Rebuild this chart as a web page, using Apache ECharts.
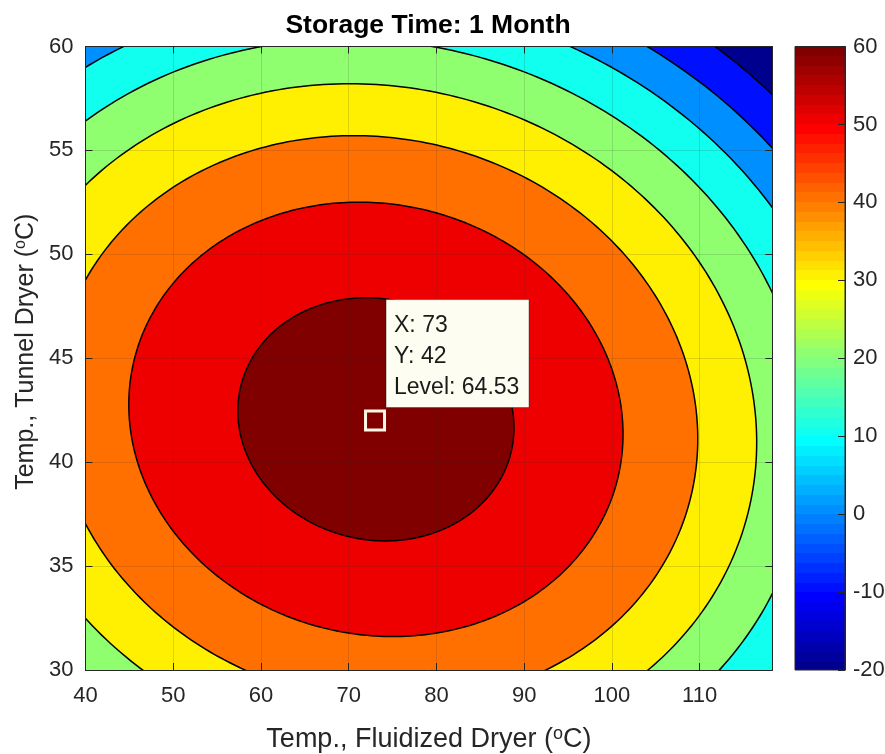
<!DOCTYPE html>
<html>
<head>
<meta charset="utf-8">
<script src="https://cdn.jsdelivr.net/npm/echarts@6/dist/echarts.min.js"></script>
<style>
html,body{margin:0;padding:0;background:#ffffff;}
#chart{width:885px;height:754px;}
</style>
</head>
<body>
<div id="chart"></div>
<script>
// ---------------- data ----------------
const chartTitle = 'Storage Time: 1 Month';
const xTicks = [40, 50, 60, 70, 80, 90, 100, 110];
const xRange = [40, 118.28];
const yTicks = [30, 35, 40, 45, 50, 55, 60];
const colorTicks = [-20, -10, 0, 10, 20, 30, 40, 50, 60];

// contour levels and the shape of each closed contour (elliptical level curves)
const levels     = [-10,  0,    10,   20,   30,    40,    50,    60];
const halfWidth  = [63.5, 59.1, 54.4, 49.1, 43.3,  36.6,  28.1,  15.7];  // x half-chord through the centre row
const halfHeight = [23.9, 22.0, 20.3, 18.3, 16.15, 13.65, 10.45, 5.85];  // y half-extent
const centre = [73.1, 42.06];   // optimum location
const slant = -0.184;           // x shift of chord midpoints per unit of y

// data tip
const tipPoint = [73, 42, 64.53];

// ---------------- styling helpers ----------------
const FONT = '"Liberation Sans", Arial, Helvetica, sans-serif';
const AX = '#262626';
const cMin = colorTicks[0], cMax = colorTicks[colorTicks.length - 1];

function jet(m) {
  const n = Math.ceil(m / 4);
  const u = [];
  for (let i = 1; i <= n; i++) u.push(i / n);
  for (let i = 0; i < n - 1; i++) u.push(1);
  for (let i = n; i >= 1; i--) u.push(i / n);
  const g0 = Math.ceil(n / 2) - (m % 4 === 1 ? 1 : 0);
  const map = Array.from({length: m}, () => [0, 0, 0]);
  for (let j = 0; j < u.length; j++) {
    const g = g0 + j + 1, r = g + n, b = g - n;
    if (r >= 1 && r <= m) map[r - 1][0] = u[j];
    if (g >= 1 && g <= m) map[g - 1][1] = u[j];
    if (b >= 1 && b <= m) map[b - 1][2] = u[j];
  }
  return map.map(c => 'rgb(' + c.map(v => Math.round(v * 255)).join(',') + ')');
}
const JET = jet(64);
function colorOf(v) {
  let i = Math.floor((v - cMin) / (cMax - cMin) * 64);
  return JET[Math.max(0, Math.min(63, i))];
}
const gradStops = [];
for (let i = 0; i < 64; i++) {
  gradStops.push({offset: i / 64, color: JET[i]});
  gradStops.push({offset: (i + 1) / 64, color: JET[i]});
}

const contourData = levels.map((L, i) => [centre[0], centre[1], L, halfWidth[i], halfHeight[i]]);

const chart = echarts.init(document.getElementById('chart'), null, {renderer: 'canvas'});

function nameRich(size) {
  return {sup: {fontSize: Math.round(size * 0.65), fontFamily: FONT, color: AX, verticalAlign: 'bottom',
    padding: [0, 0, Math.round(size * 0.42), 0]}};
}

const option = {
  backgroundColor: '#ffffff',
  animation: false,
  title: {
    text: chartTitle,
    left: 423, top: 7,
    textAlign: 'center', textVerticalAlign: 'top',
    textStyle: {fontFamily: FONT, fontSize: 26.5, fontWeight: 'bold', color: '#000000'}
  },
  grid: [
    {left: 85.5, top: 46.5, width: 686.8, height: 623.5, containLabel: false, outerBoundsMode: 'none'},
    {left: 795, top: 46.5, width: 50, height: 623.5, containLabel: false, outerBoundsMode: 'none'}
  ],
  xAxis: [
    {
      gridIndex: 0, type: 'value', min: xRange[0], max: xRange[1], interval: xTicks[1] - xTicks[0],
      position: 'bottom', z: 10,
      axisLine: {show: true, onZero: false, lineStyle: {color: AX, width: 1}},
      axisTick: {show: true, inside: true, length: 7, lineStyle: {color: AX}},
      axisLabel: {color: AX, fontSize: 22, fontFamily: FONT, margin: 15, showMaxLabel: false,
        formatter: v => (xTicks.indexOf(v) >= 0 ? String(v) : '')},
      splitLine: {show: true, lineStyle: {color: 'rgba(38,38,38,0.15)', width: 1}},
      name: 'Temp., Fluidized Dryer ({sup|o}C)', nameLocation: 'middle', nameGap: 55,
      nameTextStyle: {fontSize: 27, fontFamily: FONT, color: AX, rich: nameRich(27)}
    },
    {
      gridIndex: 0, type: 'value', min: xRange[0], max: xRange[1], interval: xTicks[1] - xTicks[0],
      position: 'top', z: 10,
      axisLine: {show: true, onZero: false, lineStyle: {color: AX, width: 1}},
      axisTick: {show: true, inside: true, length: 7, lineStyle: {color: AX}},
      axisLabel: {show: false}, splitLine: {show: false}
    },
    {gridIndex: 1, type: 'value', min: 0, max: 1, show: false}
  ],
  yAxis: [
    {
      gridIndex: 0, type: 'value', min: yTicks[0], max: yTicks[yTicks.length - 1], interval: yTicks[1] - yTicks[0],
      position: 'left', z: 10,
      axisLine: {show: true, onZero: false, lineStyle: {color: AX, width: 1}},
      axisTick: {show: true, inside: true, length: 7, lineStyle: {color: AX}},
      axisLabel: {color: AX, fontSize: 22, fontFamily: FONT, margin: 12, padding: [5, 0, 0, 0]},
      splitLine: {show: true, lineStyle: {color: 'rgba(38,38,38,0.15)', width: 1}},
      name: 'Temp., Tunnel Dryer ({sup|o}C)', nameLocation: 'middle', nameGap: 39, nameRotate: 90,
      nameTextStyle: {fontSize: 25, fontFamily: FONT, color: AX, rich: nameRich(25), padding: [0, 0, 0, 13]}
    },
    {
      gridIndex: 0, type: 'value', min: yTicks[0], max: yTicks[yTicks.length - 1], interval: yTicks[1] - yTicks[0],
      position: 'right', z: 10,
      axisLine: {show: true, onZero: false, lineStyle: {color: AX, width: 1}},
      axisTick: {show: true, inside: true, length: 7, lineStyle: {color: AX}},
      axisLabel: {show: false}, splitLine: {show: false}
    },
    {
      gridIndex: 1, type: 'value', min: cMin, max: cMax, interval: colorTicks[1] - colorTicks[0],
      position: 'right', z: 10,
      axisLine: {show: true, onZero: false, lineStyle: {color: AX, width: 1}},
      axisTick: {show: true, inside: true, length: 7, lineStyle: {color: AX}},
      axisLabel: {color: AX, fontSize: 22, fontFamily: FONT, margin: 8, padding: [5, 0, 0, 0]},
      splitLine: {show: false}
    }
  ],
  series: [
    {
      // region below the lowest contour level
      type: 'custom', name: 'below', xAxisIndex: 0, yAxisIndex: 0, z: 1, clip: true, silent: true,
      data: [[xRange[0], yTicks[0], xRange[1], yTicks[yTicks.length - 1]]],
      renderItem: function (params, api) {
        const p0 = api.coord([api.value(0), api.value(3)]);
        const p1 = api.coord([api.value(2), api.value(1)]);
        return {type: 'rect', shape: {x: p0[0], y: p0[1], width: p1[0] - p0[0], height: p1[1] - p0[1]},
          style: {fill: colorOf(cMin)}};
      }
    },
    {
      type: 'custom', name: 'contours', xAxisIndex: 0, yAxisIndex: 0, z: 2, clip: true, silent: true,
      data: contourData,
      renderItem: function (params, api) {
        const cx = api.value(0), cy = api.value(1), L = api.value(2), hw = api.value(3), hh = api.value(4);
        const pts = [];
        const N = 360;
        for (let k = 0; k < N; k++) {
          const t = 2 * Math.PI * k / N;
          const y = cy + hh * Math.sin(t);
          const x = cx + hw * Math.cos(t) + slant * (y - cy);
          pts.push(api.coord([x, y]));
        }
        return {type: 'polygon', shape: {points: pts},
          style: {fill: colorOf(L), stroke: '#000000', lineWidth: 1.5, lineJoin: 'round'}};
      }
    },
    {
      type: 'custom', name: 'colorbar', xAxisIndex: 2, yAxisIndex: 2, z: 2, silent: true,
      data: [[0, cMin, 1, cMax]],
      renderItem: function (params, api) {
        const p0 = api.coord([api.value(0), api.value(3)]);
        const p1 = api.coord([api.value(2), api.value(1)]);
        return {type: 'rect', shape: {x: p0[0], y: p0[1], width: p1[0] - p0[0], height: p1[1] - p0[1]},
          style: {fill: {type: 'linear', x: 0, y: 1, x2: 0, y2: 0, colorStops: gradStops},
            stroke: AX, lineWidth: 1}};
      }
    },
    {
      type: 'custom', name: 'datatip', xAxisIndex: 0, yAxisIndex: 0, z: 30, silent: true,
      data: [tipPoint],
      renderItem: function (params, api) {
        const p = api.coord([api.value(0), api.value(1)]);
        const lines = ['X: ' + api.value(0), 'Y: ' + api.value(1), 'Level: ' + Number(api.value(2)).toFixed(2)];
        return {type: 'group', children: [
          {type: 'rect', shape: {x: p[0] - 9.5, y: p[1] - 9.5, width: 19, height: 19},
            style: {fill: 'none', stroke: '#fff8e4', lineWidth: 3}},
          {type: 'rect', shape: {x: p[0] + 11, y: p[1] - 121, width: 143, height: 108},
            style: {fill: '#fdfdf2', stroke: 'rgba(0,0,0,0.35)', lineWidth: 1}},
          {type: 'text', x: p[0] + 19, y: p[1] - 63.7,
            style: {text: lines.join('\n'), fontSize: 23, fontFamily: FONT, fill: '#1a1a1a',
              lineHeight: 31, align: 'left', verticalAlign: 'middle'}}
        ]};
      }
    }
  ]
};
chart.setOption(option);
</script>
</body>
</html>
